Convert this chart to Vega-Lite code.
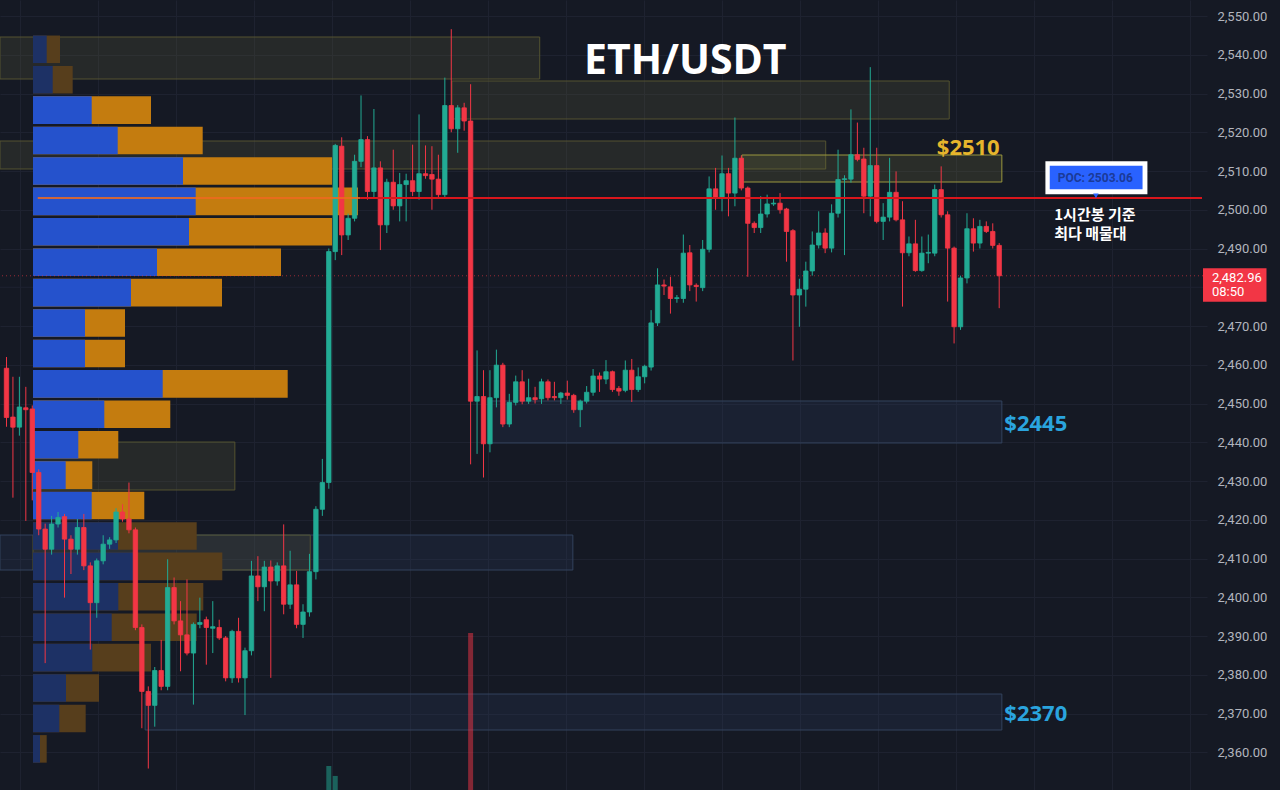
{
 "$schema": "https://vega.github.io/schema/vega-lite/v6.json",
 "width": 1207,
 "height": 790,
 "autosize": {"type": "none"},
 "padding": {"left": 0, "top": 0, "right": 73, "bottom": 0},
 "background": "#151924",
 "config": {"view": {"stroke": null}},
 "datasets": {
  "candles": [
{"i":0,"o":2459.1,"h":2462,"l":2444,"c":2446.4},
{"i":1,"o":2446.5,"h":2456.9,"l":2425.7,"c":2443.9},
{"i":2,"o":2443.9,"h":2456.9,"l":2441.7,"c":2449.1},
{"i":3,"o":2448.9,"h":2454.3,"l":2419.7,"c":2448.4},
{"i":4,"o":2448.6,"h":2449.5,"l":2425,"c":2432.2},
{"i":5,"o":2432.2,"h":2433,"l":2416,"c":2417.6},
{"i":6,"o":2417.6,"h":2419,"l":2383,"c":2412.4},
{"i":7,"o":2412.4,"h":2421,"l":2411,"c":2418.9},
{"i":8,"o":2418.9,"h":2422,"l":2418,"c":2420.6},
{"i":9,"o":2420.8,"h":2421.5,"l":2399.9,"c":2415},
{"i":10,"o":2415,"h":2416,"l":2406,"c":2412.4},
{"i":11,"o":2412.4,"h":2420.2,"l":2411,"c":2418},
{"i":12,"o":2418,"h":2421.5,"l":2407,"c":2408.1},
{"i":13,"o":2408.1,"h":2409,"l":2386.5,"c":2398.6},
{"i":14,"o":2398.6,"h":2410,"l":2394.7,"c":2409.4},
{"i":15,"o":2409.4,"h":2416,"l":2408.5,"c":2413.7},
{"i":16,"o":2413.7,"h":2415.5,"l":2412.5,"c":2414.8},
{"i":17,"o":2414.8,"h":2423,"l":2414,"c":2422},
{"i":18,"o":2422,"h":2424,"l":2419.5,"c":2420.2},
{"i":19,"o":2420.2,"h":2429.6,"l":2416.5,"c":2417.4},
{"i":20,"o":2417.4,"h":2418,"l":2391.5,"c":2392.2},
{"i":21,"o":2392.2,"h":2393,"l":2366.2,"c":2375.7},
{"i":22,"o":2375.7,"h":2377,"l":2355.8,"c":2372.1},
{"i":23,"o":2372.1,"h":2382,"l":2366.6,"c":2381.1},
{"i":24,"o":2381.1,"h":2389,"l":2376,"c":2377},
{"i":25,"o":2377,"h":2409.8,"l":2376,"c":2402.5},
{"i":26,"o":2402.5,"h":2405.1,"l":2393,"c":2393.9},
{"i":27,"o":2393.9,"h":2399,"l":2380.9,"c":2390.3},
{"i":28,"o":2390.3,"h":2404.6,"l":2385,"c":2385.6},
{"i":29,"o":2385.6,"h":2393.5,"l":2372.3,"c":2393},
{"i":30,"o":2393,"h":2399.9,"l":2392,"c":2393.5},
{"i":31,"o":2394.2,"h":2395,"l":2382.6,"c":2392.2},
{"i":32,"o":2392,"h":2399,"l":2385.6,"c":2392.4},
{"i":33,"o":2392.2,"h":2394.2,"l":2389,"c":2389.5},
{"i":34,"o":2389.5,"h":2390,"l":2378.3,"c":2379.2},
{"i":35,"o":2379.2,"h":2391.6,"l":2377.9,"c":2391.2},
{"i":36,"o":2391.2,"h":2394.7,"l":2378,"c":2379.2},
{"i":37,"o":2379.2,"h":2387,"l":2369.6,"c":2386.2},
{"i":38,"o":2386.2,"h":2409.4,"l":2385,"c":2405.5},
{"i":39,"o":2405.5,"h":2410.6,"l":2399,"c":2402.7},
{"i":40,"o":2402.7,"h":2409.4,"l":2396.4,"c":2407.8},
{"i":41,"o":2407.8,"h":2409.5,"l":2379.2,"c":2404.2},
{"i":42,"o":2404.2,"h":2409,"l":2403,"c":2408.1},
{"i":43,"o":2408.1,"h":2418.8,"l":2395.6,"c":2398.2},
{"i":44,"o":2398.2,"h":2412,"l":2397,"c":2403.2},
{"i":45,"o":2403.2,"h":2406.8,"l":2392,"c":2393},
{"i":46,"o":2393,"h":2398.2,"l":2389.5,"c":2396.2},
{"i":47,"o":2396.2,"h":2411.2,"l":2395,"c":2406.6},
{"i":48,"o":2406.6,"h":2423.5,"l":2404.6,"c":2422.7},
{"i":49,"o":2422.7,"h":2435.7,"l":2421,"c":2429.6},
{"i":50,"o":2429.6,"h":2490,"l":2428,"c":2489.2},
{"i":51,"o":2489.2,"h":2517,"l":2487,"c":2516.6},
{"i":52,"o":2516.4,"h":2518.7,"l":2488.3,"c":2493.5},
{"i":53,"o":2493.5,"h":2499,"l":2492.2,"c":2497.8},
{"i":54,"o":2497.8,"h":2514.2,"l":2497,"c":2512.5},
{"i":55,"o":2512.5,"h":2529.5,"l":2511,"c":2518.1},
{"i":56,"o":2518.1,"h":2519,"l":2502.6,"c":2504.7},
{"i":57,"o":2504.7,"h":2526,"l":2503,"c":2510.8},
{"i":58,"o":2510.8,"h":2512.5,"l":2489.6,"c":2496.1},
{"i":59,"o":2496.1,"h":2508,"l":2494,"c":2507.1},
{"i":60,"o":2507.1,"h":2515.5,"l":2500,"c":2501},
{"i":61,"o":2501,"h":2509.5,"l":2497,"c":2506.5},
{"i":62,"o":2506.5,"h":2509.3,"l":2497,"c":2507.5},
{"i":63,"o":2507.5,"h":2516.8,"l":2503.5,"c":2504.7},
{"i":64,"o":2504.7,"h":2524.6,"l":2502.6,"c":2509.3},
{"i":65,"o":2509.3,"h":2516.6,"l":2508,"c":2508.8},
{"i":66,"o":2509.1,"h":2516.4,"l":2500,"c":2507.9},
{"i":67,"o":2507.9,"h":2514.2,"l":2503,"c":2503.9},
{"i":68,"o":2503.9,"h":2534.1,"l":2503,"c":2526.9},
{"i":69,"o":2526.9,"h":2546.6,"l":2520,"c":2520.9},
{"i":70,"o":2520.9,"h":2527,"l":2514.7,"c":2526.3},
{"i":71,"o":2526.3,"h":2527.6,"l":2520.4,"c":2522.9},
{"i":72,"o":2522.9,"h":2532.4,"l":2434.3,"c":2450.6},
{"i":73,"o":2450.6,"h":2463.7,"l":2437,"c":2451.8},
{"i":74,"o":2451.8,"h":2458.6,"l":2430.9,"c":2439.6},
{"i":75,"o":2439.6,"h":2458.6,"l":2437.4,"c":2451.5},
{"i":76,"o":2451.5,"h":2463.9,"l":2449,"c":2459.9},
{"i":77,"o":2459.9,"h":2460.5,"l":2443.9,"c":2444.7},
{"i":78,"o":2444.7,"h":2452.5,"l":2443.9,"c":2450.3},
{"i":79,"o":2450.3,"h":2457.2,"l":2449.5,"c":2455.6},
{"i":80,"o":2455.6,"h":2458.6,"l":2449.8,"c":2450.6},
{"i":81,"o":2450.6,"h":2456.4,"l":2449.9,"c":2451.5},
{"i":82,"o":2451.5,"h":2454.3,"l":2450,"c":2451},
{"i":83,"o":2451.2,"h":2456.4,"l":2449.9,"c":2455.6},
{"i":84,"o":2455.6,"h":2456.2,"l":2450.8,"c":2451.5},
{"i":85,"o":2451.8,"h":2455.6,"l":2450.8,"c":2451.5},
{"i":86,"o":2451.5,"h":2453,"l":2449.9,"c":2452.7},
{"i":87,"o":2452.7,"h":2455.9,"l":2451,"c":2452.1},
{"i":88,"o":2452.1,"h":2452.5,"l":2447.6,"c":2448.4},
{"i":89,"o":2448.4,"h":2451,"l":2443.9,"c":2450.6},
{"i":90,"o":2450.6,"h":2454.5,"l":2450,"c":2452.9},
{"i":91,"o":2452.9,"h":2458.9,"l":2452,"c":2457.1},
{"i":92,"o":2457.1,"h":2458,"l":2453,"c":2456.3},
{"i":93,"o":2456.3,"h":2461.2,"l":2455,"c":2458.2},
{"i":94,"o":2458.2,"h":2458.5,"l":2453,"c":2453.6},
{"i":95,"o":2453.9,"h":2454.5,"l":2452,"c":2453.2},
{"i":96,"o":2453.4,"h":2461.1,"l":2452.9,"c":2458.6},
{"i":97,"o":2458.6,"h":2461.5,"l":2450.4,"c":2453.6},
{"i":98,"o":2453.6,"h":2459.3,"l":2453,"c":2456.9},
{"i":99,"o":2456.9,"h":2460,"l":2455.2,"c":2459.6},
{"i":100,"o":2459.4,"h":2474.1,"l":2458.5,"c":2470.8},
{"i":101,"o":2470.8,"h":2484.9,"l":2470,"c":2480.6},
{"i":102,"o":2480.6,"h":2482,"l":2478,"c":2480.3},
{"i":103,"o":2480.1,"h":2482.7,"l":2473.2,"c":2477.1},
{"i":104,"o":2477.1,"h":2478,"l":2476,"c":2477.3},
{"i":105,"o":2477.1,"h":2493.6,"l":2476,"c":2488.8},
{"i":106,"o":2488.9,"h":2490.9,"l":2479,"c":2480.6},
{"i":107,"o":2480.5,"h":2481,"l":2476.3,"c":2480.2},
{"i":108,"o":2479.9,"h":2492.2,"l":2479,"c":2489.8},
{"i":109,"o":2489.8,"h":2508.6,"l":2489,"c":2505.4},
{"i":110,"o":2505.4,"h":2510.8,"l":2500,"c":2503},
{"i":111,"o":2503,"h":2514,"l":2499.6,"c":2509.3},
{"i":112,"o":2509.3,"h":2510.8,"l":2498.3,"c":2504.3},
{"i":113,"o":2504.3,"h":2523.8,"l":2500.9,"c":2513.3},
{"i":114,"o":2513.3,"h":2514,"l":2505,"c":2505.6},
{"i":115,"o":2505.6,"h":2506,"l":2482.7,"c":2496.5},
{"i":116,"o":2496.5,"h":2497,"l":2494,"c":2495.4},
{"i":117,"o":2495.4,"h":2503.5,"l":2494,"c":2498.9},
{"i":118,"o":2498.9,"h":2503.9,"l":2498,"c":2501.5},
{"i":119,"o":2501.5,"h":2503,"l":2501,"c":2501.7},
{"i":120,"o":2501.7,"h":2504.3,"l":2499,"c":2500},
{"i":121,"o":2500.2,"h":2500.5,"l":2486.6,"c":2494.4},
{"i":122,"o":2494.6,"h":2495,"l":2461.1,"c":2478},
{"i":123,"o":2478,"h":2482.2,"l":2469.8,"c":2479.5},
{"i":124,"o":2479.5,"h":2486.6,"l":2475,"c":2484.2},
{"i":125,"o":2484.2,"h":2494.4,"l":2483,"c":2490.9},
{"i":126,"o":2490.9,"h":2499.6,"l":2490,"c":2494},
{"i":127,"o":2494,"h":2495.2,"l":2488.8,"c":2490.1},
{"i":128,"o":2490.1,"h":2501.4,"l":2489,"c":2499.1},
{"i":129,"o":2499.1,"h":2515.5,"l":2498,"c":2507.8},
{"i":130,"o":2507.8,"h":2508.9,"l":2488.3,"c":2508},
{"i":131,"o":2507.9,"h":2525.9,"l":2507,"c":2514.2},
{"i":132,"o":2514.2,"h":2522.5,"l":2512.5,"c":2513},
{"i":133,"o":2513.1,"h":2516,"l":2499.1,"c":2503.5},
{"i":134,"o":2503.5,"h":2536.8,"l":2498.3,"c":2511.4},
{"i":135,"o":2511.4,"h":2516,"l":2496.5,"c":2497},
{"i":136,"o":2497,"h":2501.7,"l":2492.2,"c":2498.1},
{"i":137,"o":2498.1,"h":2513.4,"l":2497,"c":2504.5},
{"i":138,"o":2504.5,"h":2509.9,"l":2497,"c":2497.4},
{"i":139,"o":2497.4,"h":2502.2,"l":2475,"c":2488.9},
{"i":140,"o":2488.9,"h":2493.1,"l":2488,"c":2491.2},
{"i":141,"o":2491.2,"h":2497.4,"l":2484,"c":2484.3},
{"i":142,"o":2484.3,"h":2493.1,"l":2484,"c":2488.8},
{"i":143,"o":2488.8,"h":2493.6,"l":2486.2,"c":2489},
{"i":144,"o":2488.8,"h":2506.5,"l":2488,"c":2505.2},
{"i":145,"o":2505.2,"h":2511.2,"l":2498,"c":2498.7},
{"i":146,"o":2498.7,"h":2499.6,"l":2476.3,"c":2490.1},
{"i":147,"o":2490.1,"h":2490.5,"l":2465.5,"c":2469.8},
{"i":148,"o":2469.8,"h":2483,"l":2469,"c":2482.4},
{"i":149,"o":2482.4,"h":2499.1,"l":2481,"c":2495.1},
{"i":150,"o":2495.1,"h":2497.8,"l":2489.2,"c":2491.4},
{"i":151,"o":2491.4,"h":2497.4,"l":2490,"c":2495.7},
{"i":152,"o":2495.7,"h":2497,"l":2494,"c":2494.4},
{"i":153,"o":2494.4,"h":2496.5,"l":2490,"c":2490.8},
{"i":154,"o":2490.8,"h":2491.4,"l":2474.6,"c":2482.96}
  ],
  "zones": [
   {"i0":-0.23,"i1":82.8,"p0":2533.74,"p1":2544.58,"kind":"supply"},
   {"i0":69.3,"i1":145.8,"p0":2523.42,"p1":2533.23,"kind":"supply"},
   {"i0":-0.23,"i1":126.8,"p0":2510.52,"p1":2517.74,"kind":"supply"},
   {"i0":113.9,"i1":153.9,"p0":2507.16,"p1":2514.13,"kind":"key"},
   {"i0":4.85,"i1":35.9,"p0":2427.68,"p1":2440.06,"kind":"supply"},
   {"i0":75.2,"i1":153.9,"p0":2439.81,"p1":2450.65,"kind":"demand"},
   {"i0":-0.23,"i1":87.9,"p0":2407.03,"p1":2416.06,"kind":"demand"},
   {"i0":4.85,"i1":47.5,"p0":2407.03,"p1":2416.06,"kind":"supply"},
   {"i0":22.1,"i1":153.9,"p0":2365.74,"p1":2375.03,"kind":"demand"}
  ],
  "profile": [
   {"lo":2538.95,"hi":2546.15,"buy":13.7,"tot":27,"va":false},
   {"lo":2531.0,"hi":2538.2,"buy":19.7,"tot":39.7,"va":false},
   {"lo":2523.05,"hi":2530.25,"buy":58.7,"tot":118,"va":true},
   {"lo":2515.1,"hi":2522.3,"buy":84.7,"tot":169.7,"va":true},
   {"lo":2507.15,"hi":2514.35,"buy":150,"tot":299,"va":true},
   {"lo":2499.2,"hi":2506.4,"buy":162.7,"tot":325,"va":true},
   {"lo":2491.25,"hi":2498.45,"buy":156,"tot":299,"va":true},
   {"lo":2483.3,"hi":2490.5,"buy":124,"tot":248,"va":true},
   {"lo":2475.35,"hi":2482.55,"buy":98,"tot":189,"va":true},
   {"lo":2467.4,"hi":2474.6,"buy":52,"tot":92,"va":true},
   {"lo":2459.45,"hi":2466.65,"buy":52,"tot":92,"va":true},
   {"lo":2451.5,"hi":2458.7,"buy":129.7,"tot":254.7,"va":true},
   {"lo":2443.55,"hi":2450.75,"buy":71.3,"tot":137.3,"va":true},
   {"lo":2435.6,"hi":2442.8,"buy":45.3,"tot":85.3,"va":true},
   {"lo":2427.65,"hi":2434.85,"buy":32.7,"tot":59.3,"va":true},
   {"lo":2419.7,"hi":2426.9,"buy":58.7,"tot":111.3,"va":true},
   {"lo":2411.75,"hi":2418.95,"buy":85,"tot":163.7,"va":false},
   {"lo":2403.8,"hi":2411.0,"buy":100,"tot":189.3,"va":false},
   {"lo":2395.85,"hi":2403.05,"buy":85.3,"tot":170.3,"va":false},
   {"lo":2387.9,"hi":2395.1,"buy":78.7,"tot":163.7,"va":false},
   {"lo":2379.95,"hi":2387.15,"buy":59.3,"tot":118,"va":false},
   {"lo":2372.0,"hi":2379.2,"buy":33,"tot":66,"va":false},
   {"lo":2364.05,"hi":2371.25,"buy":26.3,"tot":52.7,"va":false},
   {"lo":2356.1,"hi":2363.3,"buy":7,"tot":13.7,"va":false}
  ],
  "volume": [
   {"i":50,"v":15.2,"d":"up"},
   {"i":51,"v":8.9,"d":"up"},
   {"i":72,"v":99.4,"d":"down"}
  ]
 },
 "resolve": {"scale": {"x": "independent", "y": "independent"}},
 "layer": [
  {
   "data": {"name": "zones"},
   "mark": {"type": "rect", "fillOpacity": 0.22, "strokeWidth": 1},
   "encoding": {
    "x": {"field": "i0", "type": "quantitative", "scale": {"domain": [-0.2308, 185.46], "nice": false, "zero": false},
          "axis": {"orient": "bottom", "values": [2.85,14.85,26.85,38.85,50.85,62.85,74.85,86.85,98.85,110.85,122.85,134.85,146.85,158.85,170.85,182.85], "grid": true, "gridColor": "#1E2230", "labels": false, "ticks": false, "domain": false, "title": null}},
    "x2": {"field": "i1"},
    "y": {"field": "p0", "type": "quantitative", "scale": {"domain": [2350.26, 2554.13], "nice": false, "zero": false},
          "axis": {"orient": "right", "values": [2360,2370,2380,2390,2400,2410,2420,2430,2440,2450,2460,2470,2490,2500,2510,2520,2530,2540,2550], "format": ",.2f", "grid": true, "gridColor": "#1E2230", "ticks": false, "domain": false, "labelColor": "#B2B5BE", "labelFont": "Roboto", "labelFontSize": 13, "labelPadding": 10, "labelFlush": false, "labelOverlap": false, "labelBound": false, "labelAlign": "left", "labelBaseline": "middle", "title": null}},
    "y2": {"field": "p1"},
    "fill": {"field": "kind", "type": "nominal", "scale": {"domain": ["supply", "key", "demand"], "range": ["#66653A", "#77753C", "#2F4264"]}, "legend": null},
    "stroke": {"field": "kind", "type": "nominal", "scale": {"domain": ["supply", "key", "demand"], "range": ["#545330", "#9A973E", "#33435D"]}, "legend": null}
   }
  },
  {
   "data": {"values": [{"g": 2480}]},
   "mark": {"type": "rule", "strokeWidth": 1, "color": "#1E2230"},
   "encoding": {
    "y": {"field": "g", "type": "quantitative", "scale": {"domain": [2350.26, 2554.13], "nice": false, "zero": false}, "axis": null}
   }
  },
  {
   "data": {"name": "profile"},
   "layer": [
    {
     "mark": {"type": "bar", "orient": "horizontal"},
     "encoding": {
      "x": {"field": "tot", "type": "quantitative", "scale": {"domain": [-33, 1174], "nice": false, "zero": false}, "axis": null},
      "y": {"field": "lo", "type": "quantitative", "scale": {"domain": [2350.26, 2554.13], "nice": false, "zero": false}, "axis": null},
      "y2": {"field": "hi"},
      "color": {"condition": {"test": "datum.va", "value": "#C47C0F"}, "value": "#573E1C"}
     }
    },
    {
     "mark": {"type": "bar", "orient": "horizontal"},
     "encoding": {
      "x": {"field": "buy", "type": "quantitative", "scale": {"domain": [-33, 1174], "nice": false, "zero": false}, "axis": null},
      "y": {"field": "lo", "type": "quantitative", "scale": {"domain": [2350.26, 2554.13], "nice": false, "zero": false}, "axis": null},
      "y2": {"field": "hi"},
      "color": {"condition": {"test": "datum.va", "value": "#2552CC"}, "value": "#1D3165"}
     }
    }
   ]
  },
  {
   "data": {"name": "volume"},
   "mark": {"type": "bar", "width": 5, "opacity": 0.5},
   "encoding": {
    "x": {"field": "i", "type": "quantitative", "scale": {"domain": [-0.2308, 185.46], "nice": false, "zero": false}, "axis": null},
    "y": {"field": "v", "type": "quantitative", "scale": {"domain": [0, 500], "nice": false, "zero": true}, "axis": null},
    "color": {"condition": {"test": "datum.d == 'up'", "value": "#22AB94"}, "value": "#F23645"}
   }
  },
  {
   "layer": [
    {
     "data": {"values": [{"last": 2482.96}]},
     "mark": {"type": "rule", "strokeWidth": 1, "strokeDash": [1, 3], "color": "#F23645", "opacity": 0.6},
     "encoding": {
      "y": {"field": "last", "type": "quantitative", "scale": {"domain": [2350.26, 2554.13], "nice": false, "zero": false}, "axis": null}
     }
    },
    {
     "data": {"name": "candles"},
     "mark": {"type": "rule", "strokeWidth": 1},
     "encoding": {
      "x": {"field": "i", "type": "quantitative", "scale": {"domain": [-0.2308, 185.46], "nice": false, "zero": false}, "axis": null},
      "y": {"field": "l", "type": "quantitative", "scale": {"domain": [2350.26, 2554.13], "nice": false, "zero": false}, "axis": null},
      "y2": {"field": "h"},
      "color": {"condition": {"test": "datum.c >= datum.o", "value": "#22AB94"}, "value": "#F23645"}
     }
    },
    {
     "data": {"name": "candles"},
     "mark": {"type": "bar", "width": 4.4, "strokeWidth": 0.8},
     "encoding": {
      "x": {"field": "i", "type": "quantitative", "scale": {"domain": [-0.2308, 185.46], "nice": false, "zero": false}, "axis": null},
      "y": {"field": "o", "type": "quantitative", "scale": {"domain": [2350.26, 2554.13], "nice": false, "zero": false}, "axis": null},
      "y2": {"field": "c"},
      "fill": {"condition": {"test": "datum.c >= datum.o", "value": "#22AB94"}, "value": "#F23645"},
      "stroke": {"condition": {"test": "datum.c >= datum.o", "value": "#22AB94"}, "value": "#F23645"}
     }
    },
    {
     "data": {"values": [{"poc": 2503.06}]},
     "mark": {"type": "rule", "strokeWidth": 2, "color": "#EE6A1E", "opacity": 0.85},
     "encoding": {
      "x": {"datum": 4.85, "type": "quantitative", "scale": {"domain": [-0.2308, 185.46], "nice": false, "zero": false}, "axis": null},
      "x2": {"datum": 54.85},
      "y": {"field": "poc", "type": "quantitative", "scale": {"domain": [2350.26, 2554.13], "nice": false, "zero": false}, "axis": null}
     }
    },
    {
     "data": {"values": [{"poc": 2503.06}]},
     "mark": {"type": "rule", "strokeWidth": 2, "color": "#D9161C"},
     "encoding": {
      "x": {"datum": 54.85, "type": "quantitative", "scale": {"domain": [-0.2308, 185.46], "nice": false, "zero": false}, "axis": null},
      "x2": {"datum": 185.46},
      "y": {"field": "poc", "type": "quantitative", "scale": {"domain": [2350.26, 2554.13], "nice": false, "zero": false}, "axis": null}
     }
    },
    {
     "data": {"values": [{"t": "ETH/USDT"}]},
     "mark": {"type": "text", "font": "Open Sans", "fontSize": 41, "fontWeight": "bold", "color": "#FFFFFF", "align": "center", "baseline": "alphabetic"},
     "encoding": {
      "x": {"datum": 105.3, "type": "quantitative", "scale": {"domain": [-0.2308, 185.46], "nice": false, "zero": false}, "axis": null},
      "y": {"datum": 2535.0, "type": "quantitative", "scale": {"domain": [2350.26, 2554.13], "nice": false, "zero": false}, "axis": null},
      "text": {"field": "t"}
     }
    },
    {
     "data": {"values": [{"t": "$2510"}]},
     "mark": {"type": "text", "font": "Open Sans", "fontSize": 22, "fontWeight": "bold", "color": "#E6B52C", "align": "center", "baseline": "alphabetic"},
     "encoding": {
      "x": {"datum": 149.2, "type": "quantitative", "scale": {"domain": [-0.2308, 185.46], "nice": false, "zero": false}, "axis": null},
      "y": {"datum": 2514.1, "type": "quantitative", "scale": {"domain": [2350.26, 2554.13], "nice": false, "zero": false}, "axis": null},
      "text": {"field": "t"}
     }
    },
    {
     "data": {"values": [{"t": "$2445"}]},
     "mark": {"type": "text", "font": "Open Sans", "fontSize": 22, "fontWeight": "bold", "color": "#2AA4DE", "align": "left", "baseline": "alphabetic"},
     "encoding": {
      "x": {"datum": 154.8, "type": "quantitative", "scale": {"domain": [-0.2308, 185.46], "nice": false, "zero": false}, "axis": null},
      "y": {"datum": 2442.98, "type": "quantitative", "scale": {"domain": [2350.26, 2554.13], "nice": false, "zero": false}, "axis": null},
      "text": {"field": "t"}
     }
    },
    {
     "data": {"values": [{"t": "$2370"}]},
     "mark": {"type": "text", "font": "Open Sans", "fontSize": 22, "fontWeight": "bold", "color": "#2AA4DE", "align": "left", "baseline": "alphabetic"},
     "encoding": {
      "x": {"datum": 154.8, "type": "quantitative", "scale": {"domain": [-0.2308, 185.46], "nice": false, "zero": false}, "axis": null},
      "y": {"datum": 2368.14, "type": "quantitative", "scale": {"domain": [2350.26, 2554.13], "nice": false, "zero": false}, "axis": null},
      "text": {"field": "t"}
     }
    },
    {
     "data": {"values": [{}]},
     "mark": {"type": "point", "shape": "M-1,-0.3235H1V0.3235H-1Z", "filled": true, "size": 10404, "color": "#FFFFFF", "opacity": 1},
     "encoding": {
      "x": {"datum": 169.08, "type": "quantitative", "scale": {"domain": [-0.2308, 185.46], "nice": false, "zero": false}, "axis": null},
      "y": {"datum": 2508.28, "type": "quantitative", "scale": {"domain": [2350.26, 2554.13], "nice": false, "zero": false}, "axis": null}
     }
    },
    {
     "data": {"values": [{}]},
     "mark": {"type": "point", "shape": "M-1,-0.2545H1V0.2545H-1Z", "filled": true, "size": 8612, "color": "#2962FF", "opacity": 1},
     "encoding": {
      "x": {"datum": 169.04, "type": "quantitative", "scale": {"domain": [-0.2308, 185.46], "nice": false, "zero": false}, "axis": null},
      "y": {"datum": 2508.33, "type": "quantitative", "scale": {"domain": [2350.26, 2554.13], "nice": false, "zero": false}, "axis": null}
     }
    },
    {
     "data": {"values": [{}]},
     "mark": {"type": "point", "shape": "triangle-down", "filled": true, "size": 30, "color": "#2962FF", "opacity": 1},
     "encoding": {
      "x": {"datum": 169.0, "type": "quantitative", "scale": {"domain": [-0.2308, 185.46], "nice": false, "zero": false}, "axis": null},
      "y": {"datum": 2503.6, "type": "quantitative", "scale": {"domain": [2350.26, 2554.13], "nice": false, "zero": false}, "axis": null}
     }
    },
    {
     "data": {"values": [{"t": "POC: 2503.06"}]},
     "mark": {"type": "text", "font": "Roboto", "fontSize": 12, "fontWeight": "bold", "color": "#1B3A98", "align": "center", "baseline": "middle"},
     "encoding": {
      "x": {"datum": 168.9, "type": "quantitative", "scale": {"domain": [-0.2308, 185.46], "nice": false, "zero": false}, "axis": null},
      "y": {"datum": 2508.3, "type": "quantitative", "scale": {"domain": [2350.26, 2554.13], "nice": false, "zero": false}, "axis": null},
      "text": {"field": "t"}
     }
    },
    {
     "data": {"values": [{"t": ["1시간봉 기준", "최다 매물대"]}]},
     "mark": {"type": "text", "font": "Noto Sans CJK KR", "fontSize": 15, "fontWeight": "bold", "color": "#FFFFFF", "align": "left", "baseline": "alphabetic", "lineHeight": 19},
     "encoding": {
      "x": {"datum": 162.54, "type": "quantitative", "scale": {"domain": [-0.2308, 185.46], "nice": false, "zero": false}, "axis": null},
      "y": {"datum": 2497.35, "type": "quantitative", "scale": {"domain": [2350.26, 2554.13], "nice": false, "zero": false}, "axis": null},
      "text": {"field": "t"}
     }
    },
    {
     "data": {"values": [{}]},
     "mark": {"type": "point", "shape": "M-1,-0.5276H1V0.5276H-1Z", "filled": true, "size": 4032, "color": "#F23645", "opacity": 1},
     "encoding": {
      "x": {"datum": 190.54, "type": "quantitative", "scale": {"domain": [-0.2308, 185.46], "nice": false, "zero": false}, "axis": null},
      "y": {"datum": 2480.59, "type": "quantitative", "scale": {"domain": [2350.26, 2554.13], "nice": false, "zero": false}, "axis": null}
     }
    },
    {
     "data": {"values": [{"t": ["2,482.96", "08:50"]}]},
     "mark": {"type": "text", "font": "Roboto", "fontSize": 13, "color": "#FFFFFF", "align": "left", "baseline": "alphabetic", "lineHeight": 14.6},
     "encoding": {
      "x": {"datum": 187.0, "type": "quantitative", "scale": {"domain": [-0.2308, 185.46], "nice": false, "zero": false}, "axis": null},
      "y": {"datum": 2481.43, "type": "quantitative", "scale": {"domain": [2350.26, 2554.13], "nice": false, "zero": false}, "axis": null},
      "text": {"field": "t"}
     }
    }
   ]
  }
 ]
}
